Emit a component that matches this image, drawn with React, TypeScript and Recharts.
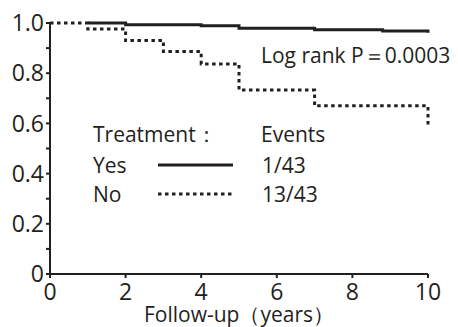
import { Line, LineChart, XAxis, YAxis } from 'recharts';

const yesYears = [1, 2, 4, 5, 7, 8.8, 10];
const yesSurvival = [1.0, 0.993, 0.989, 0.979, 0.973, 0.968, 0.961];
const noYears = [0, 1, 2, 3, 4, 5, 7, 10];
const noSurvival = [1.0, 0.976, 0.93, 0.886, 0.837, 0.733, 0.67, 0.59];
const xTicks = [0, 2, 4, 6, 8, 10];
const yTicks = [0, 0.1, 0.2, 0.3, 0.4, 0.5, 0.6, 0.7, 0.8, 0.9, 1.0];
const legendRows = [
  { name: 'Yes', events: '1/43', dash: undefined },
  { name: 'No', events: '13/43', dash: '3.5 3.5' },
];

const yesData = yesYears.map((t, i) => ({ t, s: yesSurvival[i] }));
const noData = noYears.map((t, i) => ({ t, s: noSurvival[i] }));

const FONT = '"Open Sans", sans-serif';
const INK = '#231f20';

function yLabel(v: number) {
  const r = Math.round(v * 10);
  if (r % 2 !== 0) return '';
  if (r === 0) return '0';
  return v.toFixed(1);
}

export default function App() {
  return (
    <div
      style={{
        position: 'absolute',
        left: 0,
        top: 0,
        width: 458,
        height: 327,
        background: '#fff',
        fontFamily: FONT,
      }}
    >
      <LineChart
        width={458}
        height={327}
        margin={{ top: 23, right: 30, left: 0, bottom: 0 }}
      >
        <XAxis
          type='number'
          dataKey='t'
          domain={[0, 10]}
          ticks={xTicks}
          allowDuplicatedCategory={false}
          height={53}
          stroke={INK}
          strokeWidth={2}
          tickSize={4}
          tickMargin={6}
          tick={{ fill: INK, fontSize: 23, fontFamily: FONT }}
          label={{
            value: 'Follow-up（years）',
            position: 'insideBottom',
            offset: 5,
            fill: INK,
            fontSize: 21,
            fontFamily: FONT,
          }}
        />
        <YAxis
          type='number'
          domain={[0, 1]}
          ticks={yTicks}
          interval={0}
          width={50}
          stroke={INK}
          strokeWidth={2}
          tickSize={4}
          tickFormatter={yLabel}
          tick={{ fill: INK, fontSize: 23, fontFamily: FONT }}
        />
        <Line
          data={yesData}
          dataKey='s'
          type='stepAfter'
          stroke={INK}
          strokeWidth={3}
          dot={false}
          isAnimationActive={false}
        />
        <Line
          data={noData}
          dataKey='s'
          type='stepAfter'
          stroke={INK}
          strokeWidth={3}
          strokeDasharray='3.5 3.5'
          dot={false}
          isAnimationActive={false}
        />
      </LineChart>
      <svg
        width={458}
        height={327}
        style={{ position: 'absolute', left: 0, top: 0, pointerEvents: 'none' }}
        fontFamily={FONT}
        fill={INK}
        fontSize={21}
      >
        <text x={261} y={63}>Log rank P＝0.0003</text>
        <text x={93} y={142}>Treatment：</text>
        <text x={261} y={142}>Events</text>
        {legendRows.map((row, i) => {
          const base = 173 + i * 29;
          return (
            <g key={row.name}>
              <text x={93} y={base}>{row.name}</text>
              <line
                x1={158}
                x2={233}
                y1={base - 8}
                y2={base - 8}
                stroke={INK}
                strokeWidth={3}
                strokeDasharray={row.dash}
              />
              <text x={262} y={base}>{row.events}</text>
            </g>
          );
        })}
      </svg>
    </div>
  );
}
